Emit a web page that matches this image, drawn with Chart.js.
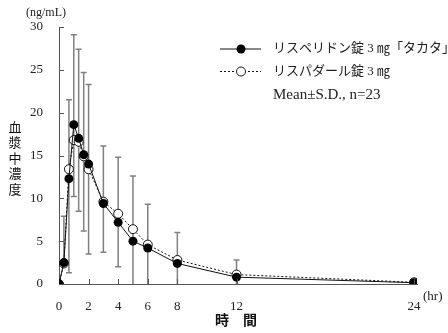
<!DOCTYPE html>
<html>
<head>
<meta charset="utf-8">
<script src="https://cdn.jsdelivr.net/npm/chart.js@4"></script>
<style>
  html, body { margin: 0; padding: 0; background: #fff; }
</style>
</head>
<body>
<canvas id="pkChart" width="448" height="333"></canvas>
<script>
// sampling times (hr)
const times = [0, 0.33, 0.67, 1, 1.33, 1.67, 2, 3, 4, 5, 6, 8, 12, 24];
// リスペリドン錠3mg「タカタ」 mean and SD (SD drawn upward)
const takataMean = [0, 2.5, 12.3, 18.6, 17.0, 15.1, 14.0, 9.4, 7.2, 5.0, 4.2, 2.4, 0.8, 0.15];
const takataSD = [0, 5.4, 9.2, 10.5, 10.4, 9.6, 9.3, 6.7, 7.6, 7.6, 5.1, 3.6, 2.0, 0.3];
// リスパダール錠3mg mean and SD (SD drawn downward)
const risperdalMean = [0, 2.4, 13.4, 16.8, 16.6, 14.9, 13.4, 9.6, 8.2, 6.4, 4.6, 2.8, 1.1, 0.2];
const risperdalSD = [0, 0.3, 12.1, 6.6, 8.1, 8.7, 9.9, 5.9, 6.2, 7.5, 6.0, 3.5, 1.6, 0.3];

const xTicks = [0, 2, 4, 6, 8, 12, 24];
const yTicks = [0, 5, 10, 15, 20, 25, 30];
const yTitle = ["血", "漿", "中", "濃", "度"];

const FONT = '"Liberation Serif", "Noto Sans CJK JP", serif';
const JP = '"Noto Sans CJK JP", sans-serif';
const AXIS = "#555";

function pts(ys) {
  return times.map((t, i) => ({ x: t, y: ys[i] }));
}

// SD bars, drawn under the points
const errorBars = {
  id: "errorBars",
  beforeDatasetsDraw(chart) {
    const { ctx, scales: { x, y } } = chart;
    ctx.save();
    ctx.strokeStyle = "#808080";
    ctx.lineWidth = 1.5;
    times.forEach((t, i) => {
      if (takataSD[i] === 0 && risperdalSD[i] === 0) return;
      const hi = takataMean[i] + takataSD[i];
      const lo = Math.max(0, risperdalMean[i] - risperdalSD[i]);
      const px = x.getPixelForValue(t);
      const pTop = y.getPixelForValue(hi);
      const pBot = y.getPixelForValue(lo);
      ctx.beginPath();
      ctx.moveTo(px, pTop);
      ctx.lineTo(px, pBot);
      ctx.moveTo(px - 3, pTop);
      ctx.lineTo(px + 3, pTop);
      if (lo > 0) {
        ctx.moveTo(px - 3, pBot);
        ctx.lineTo(px + 3, pBot);
      }
      ctx.stroke();
    });
    ctx.restore();
  }
};

// inward ticks, titles and legend
const decor = {
  id: "decor",
  afterDraw(chart) {
    const { ctx, chartArea: a, scales: { x, y } } = chart;
    ctx.save();
    ctx.strokeStyle = AXIS;
    ctx.lineWidth = 1;
    ctx.beginPath();
    yTicks.forEach(v => {
      if (v === 0) return;
      const py = Math.round(y.getPixelForValue(v)) + 0.5;
      ctx.moveTo(a.left, py);
      ctx.lineTo(a.left + 5, py);
    });
    xTicks.forEach(v => {
      if (v === 0) return;
      const px = Math.round(x.getPixelForValue(v)) + 0.5;
      ctx.moveTo(px, a.bottom);
      ctx.lineTo(px, a.bottom - 5);
    });
    ctx.stroke();

    ctx.fillStyle = "#222";
    ctx.textBaseline = "middle";
    ctx.textAlign = "left";
    ctx.font = "12px " + FONT;
    ctx.fillText("(ng/mL)", 26, 13);
    ctx.font = "13px " + FONT;
    ctx.fillText("(hr)", 423, 297);

    // vertical y title, one character per line
    ctx.fillStyle = "#111";
    ctx.font = "13px " + JP;
    ctx.textAlign = "center";
    yTitle.forEach((ch, i) => {
      ctx.fillText(ch, 15, 127 + i * 15.5);
    });
    ctx.font = "bold 14px " + JP;
    ctx.fillText("時", 222, 320);
    ctx.fillText("間", 250, 320);

    // legend
    ctx.strokeStyle = "#111";
    ctx.lineWidth = 1;
    ctx.beginPath();
    ctx.moveTo(220, 49);
    ctx.lineTo(261, 49);
    ctx.stroke();
    ctx.beginPath();
    ctx.fillStyle = "#000";
    ctx.arc(241, 49, 4.5, 0, Math.PI * 2);
    ctx.fill();

    ctx.setLineDash([2, 2]);
    ctx.beginPath();
    ctx.moveTo(220, 71.5);
    ctx.lineTo(261, 71.5);
    ctx.stroke();
    ctx.setLineDash([]);
    ctx.beginPath();
    ctx.fillStyle = "#fff";
    ctx.arc(241, 71.5, 4.5, 0, Math.PI * 2);
    ctx.fill();
    ctx.stroke();

    ctx.fillStyle = "#222";
    ctx.textAlign = "left";
    ctx.font = "13px " + FONT;
    ctx.fillText("リスペリドン錠 3 ㎎「タカタ」", 273, 49);
    ctx.fillText("リスパダール錠 3 ㎎", 273, 72);
    ctx.font = "15px " + FONT;
    ctx.fillText("Mean±S.D., n=23", 273, 95);
    ctx.restore();
  }
};

new Chart(document.getElementById("pkChart"), {
  type: "line",
  data: {
    datasets: [
      {
        label: "リスペリドン錠3mg「タカタ」",
        data: pts(takataMean),
        borderColor: "#111",
        borderWidth: 1,
        pointRadius: 4.5,
        pointBackgroundColor: "#000",
        pointBorderColor: "#000",
        pointBorderWidth: 0,
        tension: 0
      },
      {
        label: "リスパダール錠3mg",
        data: pts(risperdalMean),
        borderColor: "#111",
        borderWidth: 1,
        borderDash: [2, 2],
        pointRadius: 4.5,
        pointBackgroundColor: "#fff",
        pointBorderColor: "#111",
        pointBorderWidth: 1,
        tension: 0
      }
    ]
  },
  options: {
    responsive: false,
    animation: false,
    layout: { padding: { left: 0, right: 31, top: 27, bottom: 0 } },
    plugins: { legend: { display: false }, tooltip: { enabled: false } },
    scales: {
      x: {
        type: "linear",
        min: 0,
        max: 24.2,
        grid: { display: false },
        border: { display: true, color: AXIS, width: 1 },
        afterBuildTicks: s => { s.ticks = xTicks.map(v => ({ value: v })); },
        afterFit: s => { s.height = 49; },
        ticks: {
          autoSkip: false,
          maxRotation: 0,
          padding: 7,
          color: "#222",
          font: { family: FONT, size: 13 }
        }
      },
      y: {
        min: 0,
        max: 30,
        grid: { display: false },
        border: { display: true, color: AXIS, width: 1 },
        afterBuildTicks: s => { s.ticks = yTicks.map(v => ({ value: v })); },
        afterFit: s => { s.width = 59; },
        ticks: {
          padding: 8,
          color: "#222",
          font: { family: FONT, size: 13 }
        }
      }
    }
  },
  plugins: [errorBars, decor]
});
</script>
</body>
</html>
